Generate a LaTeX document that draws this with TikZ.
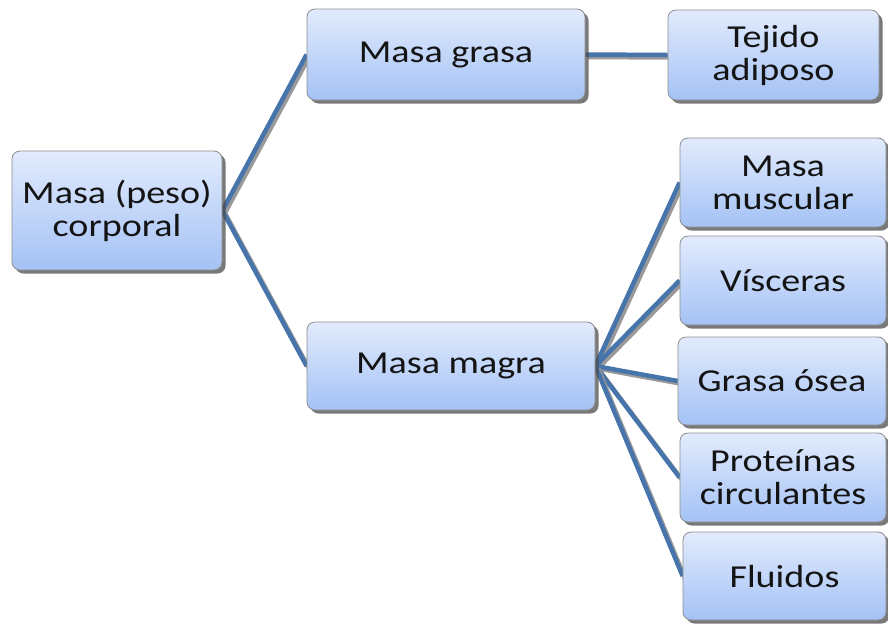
\documentclass[tikz,border=0pt]{standalone}
\usepackage{fontspec}
\setmainfont{Carlito}[FakeStretch=1.19]
\usetikzlibrary{shadows,backgrounds}

\definecolor{boxtop}{RGB}{226,235,253}
\definecolor{boxbottom}{RGB}{164,194,245}
\definecolor{boxedge}{RGB}{140,140,140}
\definecolor{linkblue}{RGB}{72,116,172}

\tikzset{
  box/.style={
    rounded corners=8pt, draw=boxedge, line width=0.8pt,
    top color=boxtop, bottom color=boxbottom,
    drop shadow={shadow xshift=3.5pt, shadow yshift=-3.5pt, fill=black!70, opacity=0.75},
    align=center, inner sep=0pt, text=black!92,
    font=\fontsize{32}{33}\selectfont
  },
  link/.style={
    draw=linkblue, line width=4.5pt,
    preaction={draw=black!40, line width=4.5pt,
      transform canvas={shift={(2.5pt,-2.5pt)}}}
  }
}

\begin{document}
\begin{tikzpicture}[x=1pt,y=-1pt]
  \useasboundingbox (0,0) rectangle (888,624);

  % root and the two main branches
  \node[box, minimum width=210pt, minimum height=119pt] (corp) at (117,210.5) {Masa (peso)\\corporal};
  \node[box, minimum width=278pt, minimum height=91pt] (grasa) at (446,54.5) {Masa grasa};
  \node[box, minimum width=288pt, minimum height=88pt] (magra) at (451,366) {Masa magra};

  % leaves
  \node[box, minimum width=211pt, minimum height=90pt] (tejido) at (773.5,55) {Tejido\\adiposo};
  \node[box, minimum width=206pt, minimum height=89pt] (musc) at (783,182.5) {Masa\\muscular};
  \node[box, minimum width=206pt, minimum height=89pt] (visc) at (783,280.5) {Vísceras};
  \node[box, minimum width=208pt, minimum height=88pt] (osea) at (782,381) {Grasa ósea};
  \node[box, minimum width=206pt, minimum height=89pt] (prot) at (783,477.5) {Proteínas\\circulantes};
  \node[box, minimum width=203pt, minimum height=88pt] (flui) at (784.5,576) {Fluidos};

  % connectors behind the boxes
  \begin{scope}[on background layer]
    \draw[link] (corp.east) -- (grasa.west);
    \draw[link] (corp.east) -- (magra.west);
    \draw[link] (grasa.east) -- (tejido.west);
    \draw[link] (magra.east) -- (musc.west);
    \draw[link] (magra.east) -- (visc.west);
    \draw[link] (magra.east) -- (osea.west);
    \draw[link] (magra.east) -- (prot.west);
    \draw[link] (magra.east) -- (flui.west);
  \end{scope}
\end{tikzpicture}
\end{document}
